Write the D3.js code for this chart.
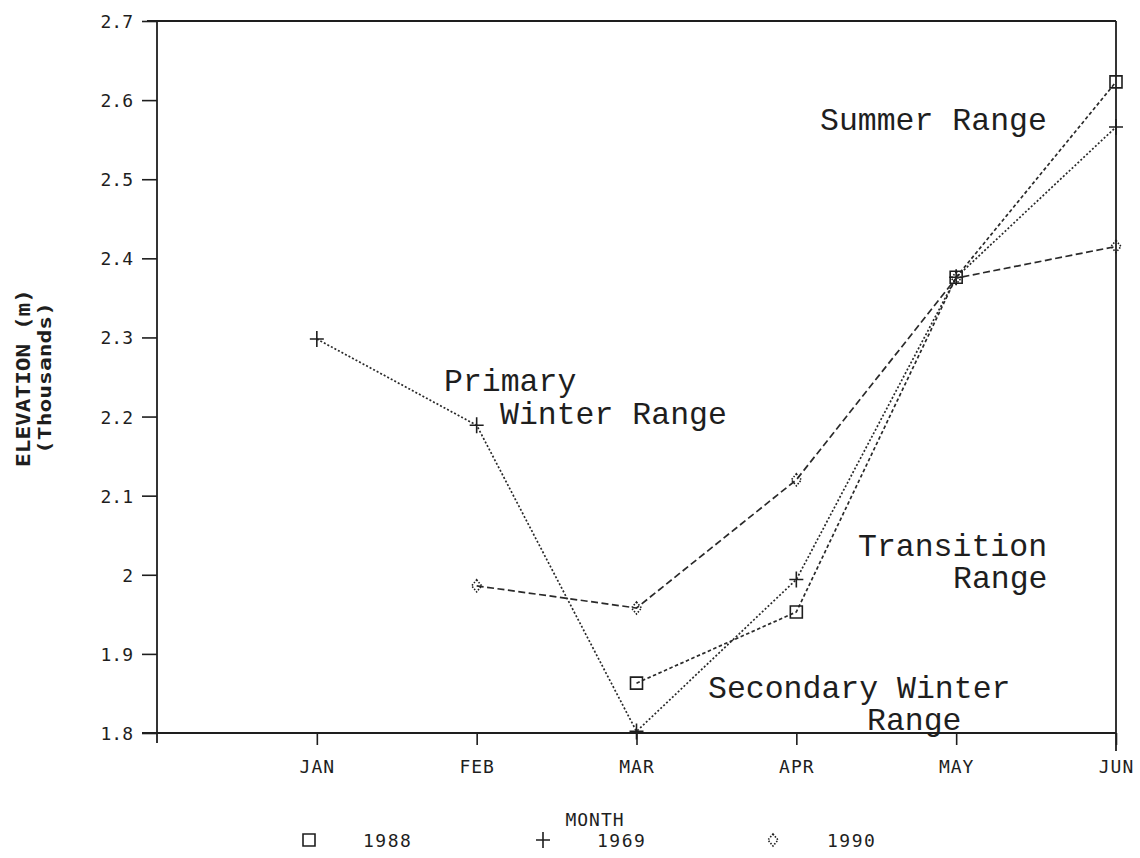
<!DOCTYPE html>
<html>
<head>
<meta charset="utf-8">
<script src="https://cdn.jsdelivr.net/npm/d3@7/dist/d3.min.js"></script>
<style>
  html, body { margin: 0; padding: 0; background: #fff; }
  svg { display: block; }
  .dot { font-family: "DejaVu Sans Mono", monospace; fill: #1e1e1e; }
  .note { font-family: "Liberation Mono", "Courier New", monospace; fill: #1e1e1e; }
</style>
</head>
<body>
<svg id="chart" width="1140" height="858"></svg>
<script>
// Mean monthly elevation (thousands of metres) by year
const months = ["JAN", "FEB", "MAR", "APR", "MAY", "JUN"];
const elev1988 = [null, null, 1.863, 1.953, 2.376, 2.623];
const elev1989 = [2.298, 2.189, 1.802, 1.994, 2.376, 2.566];
const elev1990 = [null, 1.986, 1.958, 2.120, 2.375, 2.415];
const seriesNames = ["1988", "1969", "1990"];
const yTicks = [1.8, 1.9, 2.0, 2.1, 2.2, 2.3, 2.4, 2.5, 2.6, 2.7];

const svg = d3.select("#chart");
const ink = "#1e1e1e";

// Plot frame: month index 0 sits on the left axis, JUN (6) on the right edge
const plotL = 157, plotR = 1116, plotT = 21, plotB = 733;
const x = d3.scaleLinear().domain([0, months.length]).range([plotL, plotR]);
const y = d3.scaleLinear().domain([1.8, 2.7]).range([plotB, plotT]);

// Axes
const yAxis = svg.append("g")
  .attr("transform", `translate(${plotL},0)`)
  .call(d3.axisLeft(y).tickValues(yTicks).tickSize(15).tickPadding(9)
    .tickFormat(d3.format("~g")));
yAxis.select(".domain").remove();
yAxis.selectAll("line").attr("stroke", ink).attr("stroke-width", 1.6);
yAxis.selectAll("text").attr("class", "dot").attr("font-size", 18).attr("dy", "0.36em");

const xAxis = svg.append("g")
  .attr("transform", `translate(0,${plotB})`)
  .call(d3.axisBottom(x).tickValues(d3.range(1, months.length + 1)).tickSize(12).tickPadding(15)
    .tickFormat(i => months[i - 1]));
xAxis.select(".domain").remove();
xAxis.selectAll("line").attr("stroke", ink).attr("stroke-width", 1.6);
xAxis.selectAll("text").attr("class", "dot").attr("font-size", 18).attr("letter-spacing", 1);

// Frame lines
const frame = svg.append("g").attr("stroke", ink).attr("stroke-width", 1.8).attr("fill", "none");
frame.append("line").attr("x1", plotL).attr("x2", plotL).attr("y1", plotT).attr("y2", plotB + 10);
frame.append("line").attr("x1", plotL - 15).attr("x2", plotR).attr("y1", plotB).attr("y2", plotB);
frame.append("line").attr("x1", plotL - 10).attr("x2", plotR).attr("y1", plotT).attr("y2", plotT);
frame.append("line").attr("x1", plotR).attr("x2", plotR).attr("y1", plotT).attr("y2", plotB + 18);

// Series lines
const series = [
  { name: seriesNames[0], values: elev1988, dash: "3.5,2.5", marker: "square" },
  { name: seriesNames[1], values: elev1989, dash: "2,2", marker: "plus" },
  { name: seriesNames[2], values: elev1990, dash: "7,3.5", marker: "diamond" }
];

const line = d3.line()
  .defined(d => d.v !== null)
  .x(d => x(d.i + 1))
  .y(d => y(d.v));

function markerPath(kind, cx, cy) {
  if (kind === "square") {
    return `M${cx - 6},${cy - 6}h12v12h-12Z`;
  }
  if (kind === "plus") {
    return `M${cx - 7},${cy}h14M${cx},${cy - 8}v16`;
  }
  return `M${cx},${cy - 6}L${cx + 5},${cy}L${cx},${cy + 6}L${cx - 5},${cy}Z`;
}

series.forEach(s => {
  const pts = s.values.map((v, i) => ({ i, v }));
  svg.append("path")
    .datum(pts)
    .attr("d", line)
    .attr("fill", "none")
    .attr("stroke", "#2a2a2a")
    .attr("stroke-width", 1.7)
    .attr("stroke-dasharray", s.dash);
  svg.append("g").selectAll("path")
    .data(pts.filter(d => d.v !== null))
    .join("path")
    .attr("d", d => markerPath(s.marker, x(d.i + 1), y(d.v)))
    .attr("fill", "none")
    .attr("stroke", ink)
    .attr("stroke-width", 1.6)
    .attr("stroke-dasharray", s.marker === "diamond" ? "1.5,1.5" : null);
});

// Range annotations (multi-line labels as one text with tspans)
const notes = [
  { lines: ["Summer Range"], x: 820, y: 130, dx: [0], lead: 32 },
  { lines: ["Primary", "Winter Range"], x: 444, y: 391, dx: [0, 56], lead: 33 },
  { lines: ["Transition", "Range"], x: 858, y: 556, dx: [0, 95], lead: 32 },
  { lines: ["Secondary Winter", "Range"], x: 708, y: 698, dx: [0, 159], lead: 32 }
];
notes.forEach(n => {
  const t = svg.append("text").attr("class", "note")
    .attr("x", n.x).attr("y", n.y)
    .attr("font-size", 31.5);
  n.lines.forEach((s, k) => {
    t.append("tspan")
      .attr("x", n.x + n.dx[k])
      .attr("y", n.y + k * n.lead)
      .text(s);
  });
});

// Axis titles
svg.append("text").attr("class", "dot")
  .attr("transform", "translate(30,378) rotate(-90)")
  .attr("text-anchor", "middle").attr("font-size", 19).attr("font-weight", "bold")
  .attr("textLength", 178).attr("lengthAdjust", "spacingAndGlyphs")
  .text("ELEVATION (m)");
svg.append("text").attr("class", "dot")
  .attr("transform", "translate(51,378) rotate(-90)")
  .attr("text-anchor", "middle").attr("font-size", 17).attr("font-weight", "bold")
  .attr("textLength", 152).attr("lengthAdjust", "spacingAndGlyphs")
  .text("(Thousands)");
svg.append("text").attr("class", "dot")
  .attr("x", 595).attr("y", 826)
  .attr("text-anchor", "middle").attr("font-size", 18).attr("letter-spacing", 1)
  .text("MONTH");

// Legend
const legendX = [309, 543, 773];
series.forEach((s, k) => {
  svg.append("path")
    .attr("d", markerPath(s.marker, legendX[k], 840))
    .attr("fill", "none").attr("stroke", ink).attr("stroke-width", 1.6)
    .attr("stroke-dasharray", s.marker === "diamond" ? "1.5,1.5" : null);
  svg.append("text").attr("class", "dot")
    .attr("x", legendX[k] + 54).attr("y", 847)
    .attr("font-size", 18).attr("letter-spacing", 1.5)
    .text(s.name);
});
</script>
</body>
</html>
